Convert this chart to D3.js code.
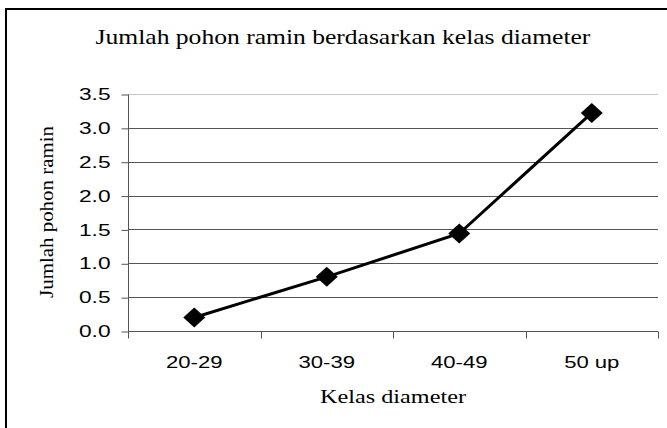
<!DOCTYPE html>
<html>
<head>
<meta charset="utf-8">
<script src="https://cdn.jsdelivr.net/npm/d3@7"></script>
<style>
  body { margin: 0; background: #fff; }
  svg { display: block; }
</style>
</head>
<body>
<div id="chart"></div>
<script>
// data
var kelas = ["20-29", "30-39", "40-49", "50 up"];
var jumlah = [0.2, 0.8, 1.44, 3.22];
var yTicks = [0, 0.5, 1, 1.5, 2, 2.5, 3, 3.5];

var width = 667, height = 428;
var plot = { left: 128, right: 658, top: 94, bottom: 331 };
var sansFont = "Liberation Sans, Arial, sans-serif";
var serifFont = "Liberation Serif, Times New Roman, serif";

var svg = d3.select("#chart").append("svg")
    .attr("width", width)
    .attr("height", height);

// the original picture is stretched sideways: widen glyphs around their anchor x
function widen(sel, k) {
    sel.each(function() {
        var ax = +d3.select(this).attr("x") || 0;
        var t = d3.select(this).attr("transform") || "";
        d3.select(this).attr("transform", t + " translate(" + ax + ",0) scale(" + k + ",1) translate(" + (-ax) + ",0)");
    });
}
function widenTo(sel, w) {
    sel.each(function() {
        widen(d3.select(this), w / this.getComputedTextLength());
    });
}

// outer frame (runs off the right and bottom edges)
svg.append("rect")
    .attr("x", 6).attr("y", 9)
    .attr("width", 700).attr("height", 500)
    .attr("fill", "none")
    .attr("stroke", "#000")
    .attr("stroke-width", 2);

var x = d3.scaleBand().domain(kelas).range([plot.left, plot.right]);
var y = d3.scaleLinear().domain([0, 3.5]).range([plot.bottom, plot.top]);

// gridlines
svg.append("g").selectAll("line")
    .data(yTicks.filter(function(d) { return d > 0; }))
    .enter().append("line")
    .attr("x1", plot.left).attr("x2", plot.right)
    .attr("y1", function(d) { return Math.round(y(d)) + 0.5; })
    .attr("y2", function(d) { return Math.round(y(d)) + 0.5; })
    .attr("stroke", function(d) { return d == 3.5 ? "#c8c8c8" : "#555"; })
    .attr("stroke-width", 1);

// y axis
var yAxis = svg.append("g")
    .attr("transform", "translate(" + (plot.left + 0.5) + ",0.5)")
    .call(d3.axisLeft(y).tickValues(yTicks).tickFormat(d3.format(".1f")).tickSize(7).tickPadding(11));
yAxis.selectAll("line, path").attr("stroke", "#555");
yAxis.select(".domain").attr("d", "M0," + y(3.5) + "V" + y(0));
yAxis.selectAll("text")
    .attr("font-family", sansFont)
    .attr("font-size", 16)
    .attr("fill", "#000")
    .call(widen, 1.42);

// x axis, ticks on the category boundaries
var xAxis = svg.append("g")
    .attr("transform", "translate(0," + (plot.bottom + 0.5) + ")");
xAxis.append("line")
    .attr("x1", plot.left).attr("x2", plot.right)
    .attr("stroke", "#555");
xAxis.selectAll("line.tk")
    .data(kelas.concat(["end"]))
    .enter().append("line")
    .attr("class", "tk")
    .attr("x1", function(d, i) { return Math.round(plot.left + i * x.bandwidth()) + 0.5; })
    .attr("x2", function(d, i) { return Math.round(plot.left + i * x.bandwidth()) + 0.5; })
    .attr("y1", 0).attr("y2", 7)
    .attr("stroke", "#555");
xAxis.selectAll("text")
    .data(kelas)
    .enter().append("text")
    .attr("x", function(d) { return x(d) + x.bandwidth() / 2; })
    .attr("y", 37)
    .attr("text-anchor", "middle")
    .attr("font-family", sansFont)
    .attr("font-size", 16)
    .text(function(d) { return d; })
    .call(widen, 1.38);

// line + diamond markers
var pts = kelas.map(function(k, i) { return [x(k) + x.bandwidth() / 2, y(jumlah[i])]; });
svg.append("path")
    .datum(pts)
    .attr("d", d3.line())
    .attr("fill", "none")
    .attr("stroke", "#000")
    .attr("stroke-width", 3);
svg.selectAll("path.mk")
    .data(pts)
    .enter().append("path")
    .attr("class", "mk")
    .attr("transform", function(d) { return "translate(" + d[0] + "," + d[1] + ")"; })
    .attr("d", "M0,-10L11,0L0,10L-11,0Z")
    .attr("fill", "#000");

// titles
svg.append("text")
    .attr("x", 343).attr("y", 44)
    .attr("text-anchor", "middle")
    .attr("font-family", serifFont)
    .attr("font-size", 22)
    .text("Jumlah pohon ramin berdasarkan kelas diameter")
    .call(widenTo, 495);

svg.append("text")
    .attr("transform", "translate(53,212) rotate(-90)")
    .attr("text-anchor", "middle")
    .attr("font-family", serifFont)
    .attr("font-size", 18)
    .text("Jumlah pohon ramin")
    .call(widenTo, 172);

svg.append("text")
    .attr("x", 393).attr("y", 403)
    .attr("text-anchor", "middle")
    .attr("font-family", serifFont)
    .attr("font-size", 19)
    .text("Kelas diameter")
    .call(widenTo, 146);
</script>
</body>
</html>
